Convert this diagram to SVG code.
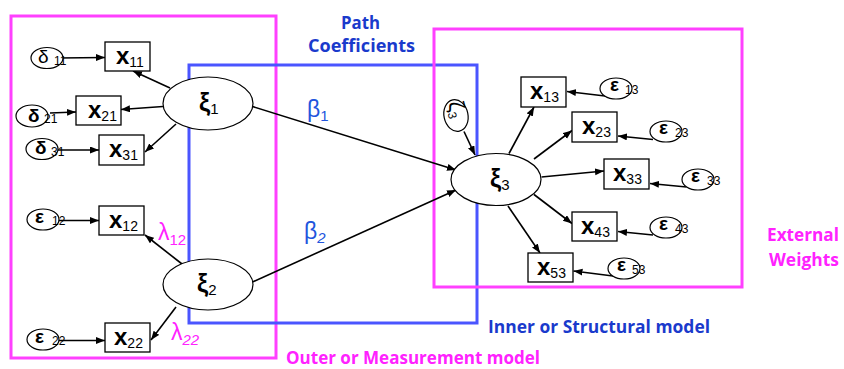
<svg xmlns="http://www.w3.org/2000/svg" width="844" height="369" viewBox="0 0 844 369">
<defs>
<marker id="ah" markerUnits="userSpaceOnUse" markerWidth="10" markerHeight="8" refX="9" refY="3.5" orient="auto">
<path d="M0,0 L9,3.5 L0,7 z" fill="#000"/>
</marker>
<style>
.frame{fill:none;stroke-width:3}
.pink{stroke:#ff40ff}
.blue{stroke:#4a55ff}
.node{fill:#fff;stroke:#000;stroke-width:1.2}
.box{fill:#fff;stroke:#000;stroke-width:1.3}
.edge{fill:none;stroke:#000;stroke-width:1.6;marker-end:url(#ah)}
.path{fill:none;stroke:#000;stroke-width:1.6;marker-end:url(#ah)}
text{font-family:"Liberation Sans","DejaVu Sans",sans-serif;fill:#000}
.xb{font-size:24px;font-weight:bold}
.sub{font-size:14px}
.gk{font-size:25px;font-weight:bold}
.gsub{font-size:15px}
.err{font-size:19px;font-weight:bold}
.errn{font-size:19px}
.esub{font-size:12px}
.zeta{font-size:22px}
.lbl{font-family:"Open Sans","Liberation Sans",sans-serif;font-weight:bold;font-size:18px}
.lblb{fill:#1a3acc}
.lblp{fill:#ff22ff}
.lam{fill:#ff22ff;font-size:23px}
.lamsub{fill:#ff22ff;font-size:15px}
.beta{fill:#2255dd;font-size:23px}
.betasub{fill:#2255dd;font-size:15px}
</style>
</defs>

<g id="frames">
<rect class="frame pink" x="11" y="16" width="265" height="342"/>
<rect class="frame blue" x="189" y="65" width="288" height="258"/>
<rect class="frame pink" x="434" y="29" width="308" height="258"/>
</g>

<g id="labels">
<text class="lbl lblb" x="341" y="29" textLength="39" lengthAdjust="spacingAndGlyphs">Path</text>
<text class="lbl lblb" x="308" y="52" textLength="107" lengthAdjust="spacingAndGlyphs">Coefficients</text>
<text class="lbl lblb" x="488" y="333" textLength="222" lengthAdjust="spacingAndGlyphs">Inner or Structural model</text>
<text class="lbl lblp" x="286" y="364" textLength="254" lengthAdjust="spacingAndGlyphs">Outer or Measurement model</text>
<text class="lbl lblp" x="767" y="241" textLength="72" lengthAdjust="spacingAndGlyphs">External</text>
<text class="lbl lblp" x="769" y="266" textLength="70" lengthAdjust="spacingAndGlyphs">Weights</text>
<text x="158" y="240"><tspan class="lam">λ</tspan><tspan class="lamsub" dy="5">12</tspan></text>
<text x="171" y="340"><tspan class="lam">λ</tspan><tspan class="lamsub" dy="5" font-style="italic">22</tspan></text>
<text x="307" y="117"><tspan class="beta">β</tspan><tspan class="betasub" dy="4">1</tspan></text>
<text x="304" y="239"><tspan class="beta">β</tspan><tspan class="betasub" dy="4" font-style="italic">2</tspan></text>
</g>

<g id="connectors">
<line class="edge" x1="58" y1="58" x2="105" y2="57.5"/>
<line class="edge" x1="50" y1="113" x2="76" y2="112"/>
<line class="edge" x1="57" y1="150" x2="99" y2="150"/>
<line class="edge" x1="57" y1="220.5" x2="99" y2="220.5"/>
<line class="edge" x1="57" y1="340.5" x2="105" y2="340.5"/>
<line class="edge" x1="170" y1="88" x2="133" y2="71"/>
<line class="edge" x1="163" y1="106.5" x2="121" y2="109.5"/>
<line class="edge" x1="176" y1="124" x2="145" y2="152"/>
<line class="edge" x1="182" y1="264" x2="145" y2="235"/>
<line class="edge" x1="176" y1="307" x2="151" y2="340"/>
<line class="path" x1="252.5" y1="106.5" x2="456" y2="170"/>
<line class="path" x1="252.5" y1="282" x2="456" y2="190"/>
<line class="edge" x1="464" y1="131.5" x2="475" y2="155"/>
<line class="edge" x1="509" y1="153.5" x2="534" y2="107"/>
<line class="edge" x1="534" y1="159" x2="572" y2="130.5"/>
<line class="edge" x1="541.5" y1="177" x2="604" y2="171"/>
<line class="edge" x1="534" y1="194.5" x2="572" y2="223.5"/>
<line class="edge" x1="508" y1="206" x2="540" y2="253"/>
<line class="edge" x1="605" y1="96" x2="567" y2="91.5"/>
<line class="edge" x1="653" y1="139.5" x2="618" y2="136"/>
<line class="edge" x1="686.5" y1="187" x2="650" y2="183.5"/>
<line class="edge" x1="653" y1="235" x2="618" y2="231.5"/>
<line class="edge" x1="613" y1="276" x2="573.5" y2="271"/>
</g>

<g id="xi1"><ellipse class="node" cx="208" cy="103.5" rx="45" ry="26.5"/><text x="199" y="111"><tspan class="gk">ξ</tspan><tspan class="gsub" dy="3">1</tspan></text></g>
<g id="xi2"><ellipse class="node" cx="208" cy="284.5" rx="45" ry="25.5"/><text x="197" y="292"><tspan class="gk">ξ</tspan><tspan class="gsub" dy="3">2</tspan></text></g>
<g id="xi3"><ellipse class="node" cx="496" cy="179.5" rx="45" ry="26"/><text x="490" y="187"><tspan class="gk">ξ</tspan><tspan class="gsub" dy="3">3</tspan></text></g>

<g id="x11"><rect class="box" x="105" y="42" width="45" height="29"/><text x="116" y="64"><tspan class="xb">x</tspan><tspan class="sub" dy="3">11</tspan></text></g>
<g id="x21"><rect class="box" x="76" y="96" width="45" height="29"/><text x="88" y="118"><tspan class="xb">x</tspan><tspan class="sub" dy="3">21</tspan></text></g>
<g id="x31"><rect class="box" x="99" y="135" width="45" height="30"/><text x="109" y="157"><tspan class="xb">x</tspan><tspan class="sub" dy="3">31</tspan></text></g>
<g id="x12"><rect class="box" x="99" y="206" width="45" height="29"/><text x="109" y="228"><tspan class="xb">x</tspan><tspan class="sub" dy="3">12</tspan></text></g>
<g id="x22"><rect class="box" x="105" y="323" width="45" height="29"/><text x="114" y="345"><tspan class="xb">x</tspan><tspan class="sub" dy="3">22</tspan></text></g>
<g id="x13"><rect class="box" x="521" y="77" width="45" height="30"/><text x="530" y="99"><tspan class="xb">x</tspan><tspan class="sub" dy="3">13</tspan></text></g>
<g id="x23"><rect class="box" x="572" y="112" width="45" height="30"/><text x="582" y="134"><tspan class="xb">x</tspan><tspan class="sub" dy="3">23</tspan></text></g>
<g id="x33"><rect class="box" x="604" y="159" width="45" height="30"/><text x="613" y="181"><tspan class="xb">x</tspan><tspan class="sub" dy="3">33</tspan></text></g>
<g id="x43"><rect class="box" x="572" y="212" width="45" height="29"/><text x="581" y="234"><tspan class="xb">x</tspan><tspan class="sub" dy="3">43</tspan></text></g>
<g id="x53"><rect class="box" x="528" y="253" width="45" height="29"/><text x="537" y="275"><tspan class="xb">x</tspan><tspan class="sub" dy="3">53</tspan></text></g>

<g id="d11"><ellipse class="node" cx="47" cy="58" rx="16" ry="10.5"/><text class="errn" x="38" y="63">δ</text><text class="esub" x="54" y="65">11</text></g>
<g id="d21"><ellipse class="node" cx="32" cy="116" rx="16" ry="11"/><text class="err" x="28" y="122">δ</text><text class="esub" x="44" y="123">21</text></g>
<g id="d31"><ellipse class="node" cx="42" cy="149" rx="16" ry="10.5"/><text class="err" x="35" y="154">δ</text><text class="esub" x="51" y="156">31</text></g>
<g id="e12"><ellipse class="node" cx="43" cy="219.5" rx="16" ry="10.5"/><text class="err" x="35" y="223">ε</text><text class="esub" x="52" y="225">12</text></g>
<g id="e22"><ellipse class="node" cx="43" cy="339.5" rx="16" ry="10.5"/><text class="err" x="35" y="343">ε</text><text class="esub" x="52" y="345">22</text></g>
<g id="z3"><ellipse class="node" cx="456" cy="115.5" rx="12" ry="16" transform="rotate(-12 456 115.5)"/><text transform="translate(448 103) rotate(75)"><tspan class="zeta">ζ</tspan><tspan class="esub" dy="3">3</tspan></text></g>
<g id="e13"><ellipse class="node" cx="616" cy="88.5" rx="16" ry="10.5"/><text class="err" x="610" y="91">ε</text><text class="esub" x="625" y="94">13</text></g>
<g id="e23"><ellipse class="node" cx="666" cy="131.5" rx="16" ry="10.5"/><text class="err" x="659" y="134">ε</text><text class="esub" x="675" y="137">23</text></g>
<g id="e33"><ellipse class="node" cx="698" cy="179.5" rx="16" ry="10.5"/><text class="err" x="691" y="182">ε</text><text class="esub" x="707" y="185">33</text></g>
<g id="e43"><ellipse class="node" cx="666" cy="227.5" rx="16" ry="10.5"/><text class="err" x="659" y="230">ε</text><text class="esub" x="675" y="233">43</text></g>
<g id="e53"><ellipse class="node" cx="624" cy="268.5" rx="16" ry="10.5"/><text class="err" x="617" y="271">ε</text><text class="esub" x="632" y="274">53</text></g>
</svg>
